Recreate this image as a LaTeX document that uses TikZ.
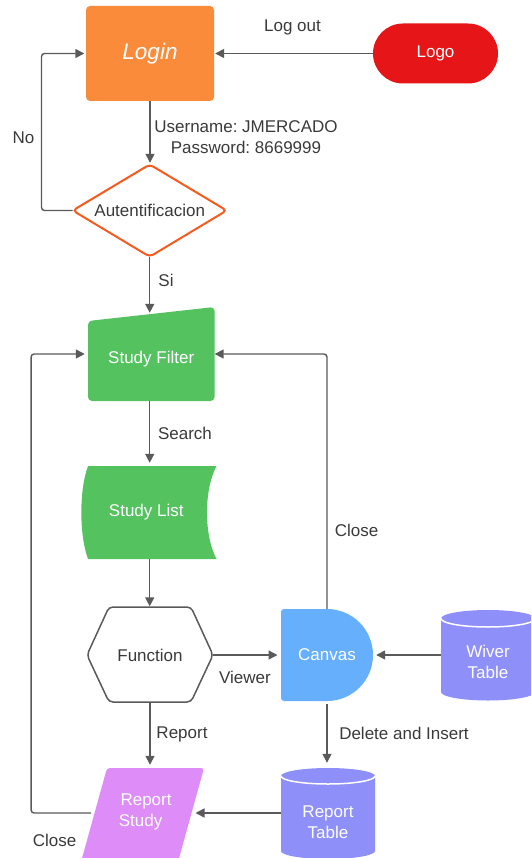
\documentclass[tikz,border=0pt]{standalone}
\usepackage{fontspec}
\setmainfont{Liberation Sans}
\usetikzlibrary{arrows.meta}
\definecolor{cOrange}{HTML}{FA8B3B}
\definecolor{cRed}{HTML}{E61517}
\definecolor{cDia}{HTML}{F75A1C}
\definecolor{cGreen}{HTML}{54C25F}
\definecolor{cBlue}{HTML}{66AFFC}
\definecolor{cPurple}{HTML}{8F8FFA}
\definecolor{cPink}{HTML}{DE8DF8}
\definecolor{cLine}{HTML}{5A5A5A}
\definecolor{cText}{HTML}{3A3A3A}
\frenchspacing
\begin{document}
\begin{tikzpicture}[x=1pt,y=-1pt,
  every node/.style={font=\fontsize{17}{21}\selectfont},
  anchorbox/.style 2 args={minimum width=#1pt, minimum height=#2pt, inner sep=0pt, align=center},
  conn/.style={draw=cLine, line width=1.4pt, rounded corners=3pt, -{Triangle[length=9pt,width=9pt]}},
  lbl/.style={text=cText, inner sep=0pt, align=center},
]
\useasboundingbox (0,0) rectangle (531,858);
\clip (0,0) rectangle (531,858);

% Login and Logo
\node[fill=cOrange, rounded corners=4pt, anchorbox={128}{95}, text=white,
      font=\fontsize{22.5}{26}\selectfont\itshape] (login) at (150,53.5) {Login};
\node[fill=cRed, rounded corners=30pt, anchorbox={125}{60}, text=white] (logo) at (435.5,53.5) {Logo};

% Decision
\draw[cDia, line width=2pt, fill=white, rounded corners=4pt]
  (72.7,210.5) -- (149.7,164.5) -- (226.7,210.5) -- (149.7,256.7) -- cycle;
\node[anchorbox={154}{92}, text=cText] (auth) at (149.7,210.5) {Autentificacion};

% Study Filter
\fill[cGreen, rounded corners=4pt] (88,321) -- (214.5,307) -- (214.5,401) -- (88,401) -- cycle;
\node[anchorbox={126.5}{84}, text=white] (sf) at (151.2,359) {Study Filter};

% Study List
\fill[cGreen] (88,466) -- (216.5,466) .. controls (203.8,490) and (203.8,535) .. (216.5,559)
  -- (88,559) .. controls (79.1,535) and (79.1,490) .. (88,466) -- cycle;
\node[anchorbox={128}{93}, text=white] (sl) at (146.3,512.5) {Study List};

% Function
\draw[cLine, line width=1.5pt, fill=white, rounded corners=4pt]
  (87,655) -- (109,607) -- (191,607) -- (213,655) -- (191,702) -- (109,702) -- cycle;
\node[anchorbox={126}{95}, text=cText] (fn) at (150,655) {Function};

% Canvas
\fill[cBlue] (327,609) arc[start angle=90,end angle=-90,radius=46pt] -- (284,701)
  arc[start angle=270,end angle=180,radius=3pt] -- (281,612)
  arc[start angle=180,end angle=90,radius=3pt] -- cycle;
\node[anchorbox={92}{92}, text=white] (cv) at (327,655) {Canvas};

% Wiver Table
\fill[cPurple] (441,618.5) -- (441,692) arc[start angle=180,end angle=360,x radius=47pt,y radius=8.5pt]
  -- (535,618.5) arc[start angle=0,end angle=180,x radius=47pt,y radius=8.5pt] -- cycle;
\draw[white, line width=1.5pt] (441,618.5) arc[start angle=180,end angle=360,x radius=47pt,y radius=8.5pt];
\node[anchorbox={94}{91}, text=white] (wt) at (488,662) {Wiver\\Table};

% Report Table
\fill[cPurple] (281,776) -- (281,851) arc[start angle=180,end angle=360,x radius=47pt,y radius=8pt]
  -- (375,776) arc[start angle=0,end angle=180,x radius=47pt,y radius=8pt] -- cycle;
\draw[white, line width=1.5pt] (281,776) arc[start angle=180,end angle=360,x radius=47pt,y radius=8pt];
\node[anchorbox={94}{110}, text=white] (rt) at (328,822) {Report\\Table};

% Report Study
\fill[cPink, rounded corners=3pt] (107,768) -- (204,768) -- (178,862) -- (81,862) -- cycle;
\node[anchorbox={104}{92}, text=white] (rs) at (143.3,812) {\hspace*{5.5pt}Report\\Study\hspace*{5.5pt}};

% Connectors
\draw[conn, shorten >=1pt] (logo.west) -- (login.east);
\draw[conn, shorten >=1.5pt] (login.south) -- (login.south |- auth.north);
\draw[conn, shorten >=1.5pt] (auth.west) -- ++(-31,0) |- (login.west);
\draw[conn] (auth.south) -- ([yshift=4pt]auth.south |- sf.north);
\draw[conn, shorten >=3pt] (auth.south |- sf.south) -- (auth.south |- sl.north);
\draw[conn, shorten >=1pt] (auth.south |- sl.south) -- (auth.south |- fn.north);
\draw[conn, shorten >=3.3pt] (fn.east) -- (fn.east -| cv.west);
\draw[conn, shorten >=3pt] ([yshift=7pt]wt.west) -- (cv.east);
\draw[conn] (cv.north) |- ([yshift=5pt]sf.east);
\draw[conn, shorten >=1pt] (fn.south) -- (fn.south |- rs.north);
\draw[conn, shorten <=3pt, shorten >=4pt] (cv.south) -- (cv.south |- rt.north);
\draw[conn] ([yshift=9pt]rt.west) -- ([yshift=9pt]rt.west -| rs.east);
\draw[conn, shorten >=3pt] ([yshift=-1pt]rs.west) -- ++(-60,0) |- ([yshift=5pt]sf.west);

% Labels
\node[lbl] (tLogout) at (292.5,27) {Log out};
\node[lbl] (tCred) at (246,137.5) {Username: JMERCADO\\Password: 8669999};
\node[lbl] (tNo) at (23.4,138) {No};
\node[lbl] (tSi) at (166,280) {Si};
\node[lbl] (tSearch) at (185,433) {Search};
\node[lbl] (tClose1) at (356.5,530) {Close};
\node[lbl] (tViewer) at (245,677) {Viewer};
\node[lbl] (tReport) at (182,734) {Report};
\node[lbl] (tDel) at (404,733) {Delete and Insert};
\node[lbl] (tClose2) at (54.5,840) {Close};
\end{tikzpicture}
\end{document}
